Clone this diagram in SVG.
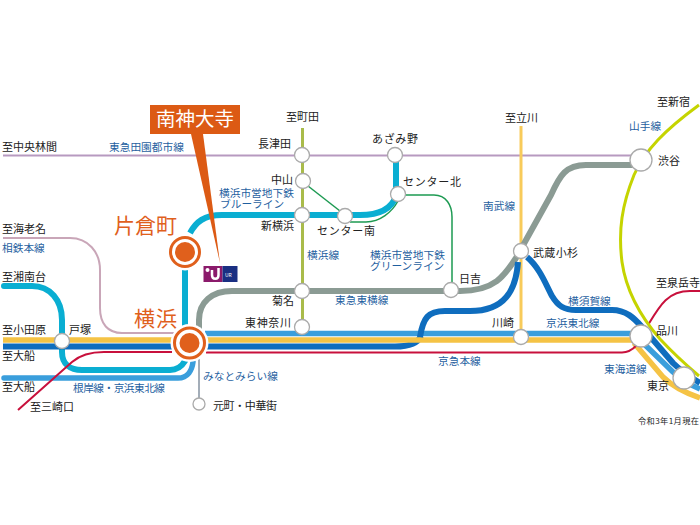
<svg xmlns="http://www.w3.org/2000/svg" width="700" height="525" viewBox="0 0 700 525">
<style>
text{font-family:"Noto Sans CJK JP","Noto Sans",sans-serif;font-size:11px;fill:#222}
.b{fill:#1f5f9f;font-size:10.700px}
.o{fill:#e0601c;font-size:21px}
.l{fill:none;stroke-linecap:butt;stroke-linejoin:round}
.rc{stroke-linecap:round}
.cy{stroke:#0aaed2;stroke-width:6}
.yl{stroke:#f5c345;stroke-width:5.500}
.bu{stroke:#0f6dbe;stroke-width:6}
.lb{stroke:#3a9edc;stroke-width:5.500}
.gy{stroke:#8b9b94;stroke-width:6}
.pu{stroke:#b79ac0;stroke-width:2}
.pk{stroke:#c9a6b8;stroke-width:2}
.rd{stroke:#c8103c;stroke-width:2}
.ol{stroke:#a9bb4a;stroke-width:3}
.nb{stroke:#f8cb5a;stroke-width:3}
.ym{stroke:#c5d400;stroke-width:3}
.gr{stroke:#1d9a52;stroke-width:1.500}
.mm{stroke:#a3adb8;stroke-width:2}
.n{fill:#fff;stroke:#aaa;stroke-width:1.300}
.h{fill:#fff}
.ring{fill:none;stroke:#e0601c;stroke-width:3}
.core{fill:#e0601c}
</style>
<g id="connectors">
<path class="l pu" d="M3 155.500H640"/>
<path class="l ol" d="M302.500 128V327"/>
<path class="l nb" d="M521 126V337"/>
<path class="l pk" d="M3 238H70C88 238 100 252 100 270V308C100 324 108 333 122 333H176"/>
<path class="l gr" d="M308 186L340 211"/>
<path class="l gr" d="M350 222H366C380 222 392 212 398 201"/>
<path class="l gr" d="M405 195H434C446 195 452 205 452 217V285"/>
<path class="l cy" d="M190 233C196 222 204 215 222 215H360C380 215 392 208 396 196V155"/>
<path class="l cy" d="M185 270V330"/>
<path class="l cy rc" d="M4 286H32C50 286 62 300 62 320V352C62 364 70 370 82 370H170C178 370 182 366 185 361"/>
<path class="l lb rc" d="M4 378H178C188 378 192 370 193 362"/>
<path class="l gy" d="M199 330V320C199 302 212 291 232 291H460C495 291 505 275 516 258L551 195C560 175 566 165 586 165H640"/>
<path class="l lb" d="M205 333.500H641"/>
<path class="l lb" d="M640 340L673 372C682 380 690 385 700 389"/>
<path class="l bu" d="M3 346.500H172M205 346.500H395C410 346.500 418 343 421 336"/>
<path class="l yl" d="M3 340H172M205 340H641"/>
<path class="l yl" d="M634 343L663 377C672 386 686 393 700 398"/>
<path class="l bu" d="M420 337C423 318 428 311 445 311H470C505 311 516 290 518 262"/>
<path class="l bu" d="M527 257C540 268 546 285 552 296C558 306 564 310 576 310H612C626 310 634 318 642 327L673 363C680 370 690 377 700 383"/>
<path class="l rd" d="M18 410L72 362C80 355 90 352 104 352H172M206 352.500H622C630 352.500 634 348 637 345"/>
<path class="l rd" d="M648 325C660 305 668 291 690 291H700"/>
<path class="l mm" d="M199 358V398"/>
<path class="l ym" d="M699 105C665 130 645 150 634 175C622 205 618 230 622 262C626 290 640 316 660 339C672 352 685 364 699 376"/>
</g>
<g id="pointer">
<rect x="150" y="105" width="90" height="29" fill="#dc5a14"/>
<polygon points="191,134 203,134 220,263" fill="#dc5a14"/>
<text x="156" y="126" style="fill:#fff;font-size:19.500px">南神大寺</text>
</g>
<g id="logo">
<rect x="203.500" y="266" width="19" height="16" fill="#8b1a6b"/>
<rect x="222.500" y="266" width="15" height="16" fill="#1a2f82"/>
<circle cx="207.500" cy="270" r="2" fill="#fff"/>
<path d="M212 270V275C212 280 218.500 280 218.500 275V268" fill="none" stroke="#fff" stroke-width="2.500"/>
<text x="225" y="276.500" style="fill:#fff;font-size:5px">UR</text>
</g>
<g id="node-nagatsuta"><circle class="n" cx="302" cy="155" r="7.500"/><text x="258" y="148">長津田</text></g>
<g id="node-nakayama"><circle class="n" cx="303" cy="181" r="7.500"/><text x="271" y="184">中山</text></g>
<g id="node-shinyokohama"><circle class="n" cx="302" cy="215" r="7.500"/><text x="261" y="230">新横浜</text></g>
<g id="node-centerminami"><circle class="n" cx="345" cy="216" r="7.500"/><text x="317" y="235" textLength="58">センター南</text></g>
<g id="node-centerkita"><circle class="n" cx="398" cy="194" r="7.500"/><text x="403" y="186" textLength="58">センター北</text></g>
<g id="node-azamino"><circle class="n" cx="395" cy="155" r="7.500"/><text x="372" y="143" textLength="46">あざみ野</text></g>
<g id="node-kikuna"><circle class="n" cx="302" cy="291" r="7.500"/><text x="272" y="305">菊名</text></g>
<g id="node-higashikanagawa"><circle class="n" cx="302" cy="327" r="7.500"/><text x="245" y="327" textLength="46">東神奈川</text></g>
<g id="node-hiyoshi"><circle class="n" cx="451" cy="290" r="7.500"/><text x="459" y="283">日吉</text></g>
<g id="node-musashikosugi"><circle class="n" cx="521" cy="251" r="7.500"/><text x="533" y="257" textLength="45">武蔵小杉</text></g>
<g id="node-kawasaki"><circle class="n" cx="521" cy="337" r="7.500"/><text x="492" y="327">川崎</text></g>
<g id="node-shibuya"><circle class="n" cx="641" cy="160" r="11"/><text x="658" y="165">渋谷</text></g>
<g id="node-shinagawa"><circle class="n" cx="641" cy="336" r="11"/><text x="656" y="335">品川</text></g>
<g id="node-tokyo"><circle class="n" cx="684" cy="378" r="11"/><text x="647" y="390">東京</text></g>
<g id="node-totsuka"><circle class="n" cx="62" cy="341" r="7.500"/><text x="69" y="334">戸塚</text></g>
<g id="node-motomachi"><circle class="n" cx="199" cy="404" r="6"/><text x="213" y="410" textLength="64">元町・中華街</text></g>
<g id="node-katakura"><circle class="h" cx="185" cy="252" r="18.500"/><circle class="ring" cx="185" cy="252" r="14.500"/><circle class="core" cx="185" cy="252" r="10"/><text class="o" x="114" y="233" textLength="63">片倉町</text></g>
<g id="node-yokohama"><circle class="h" cx="189.500" cy="343" r="19"/><circle class="ring" cx="189.500" cy="343" r="15"/><circle class="core" cx="189.500" cy="343" r="10"/><text class="o" x="134" y="326" textLength="43">横浜</text></g>
<g id="labels">
<text x="286" y="121">至町田</text>
<text x="2" y="151">至中央林間</text>
<text x="505" y="122">至立川</text>
<text x="657" y="106">至新宿</text>
<text x="2" y="233">至海老名</text>
<text x="2" y="281">至湘南台</text>
<text x="2" y="334">至小田原</text>
<text x="2" y="360">至大船</text>
<text x="2" y="391">至大船</text>
<text x="30" y="411">至三崎口</text>
<text x="656" y="287">至泉岳寺</text>
<text x="638" y="424" style="font-size:8.200px" textLength="61">令和3年1月現在</text>
<text class="b" x="109" y="151">東急田園都市線</text>
<text class="b"><tspan x="219" y="197">横浜市営地下鉄</tspan><tspan x="220" y="208">ブルーライン</tspan></text>
<text class="b" x="2" y="252">相鉄本線</text>
<text class="b" x="307" y="259">横浜線</text>
<text class="b"><tspan x="370" y="259">横浜市営地下鉄</tspan><tspan x="370" y="270">グリーンライン</tspan></text>
<text class="b" x="629" y="130">山手線</text>
<text class="b" x="483" y="210">南武線</text>
<text class="b" x="335" y="304">東急東横線</text>
<text class="b" x="73" y="392" textLength="92">根岸線・京浜東北線</text>
<text class="b" x="203" y="380">みなとみらい線</text>
<text class="b" x="546" y="327">京浜東北線</text>
<text class="b" x="568" y="305">横須賀線</text>
<text class="b" x="438" y="365">京急本線</text>
<text class="b" x="604" y="373">東海道線</text>
</g>
</svg>
